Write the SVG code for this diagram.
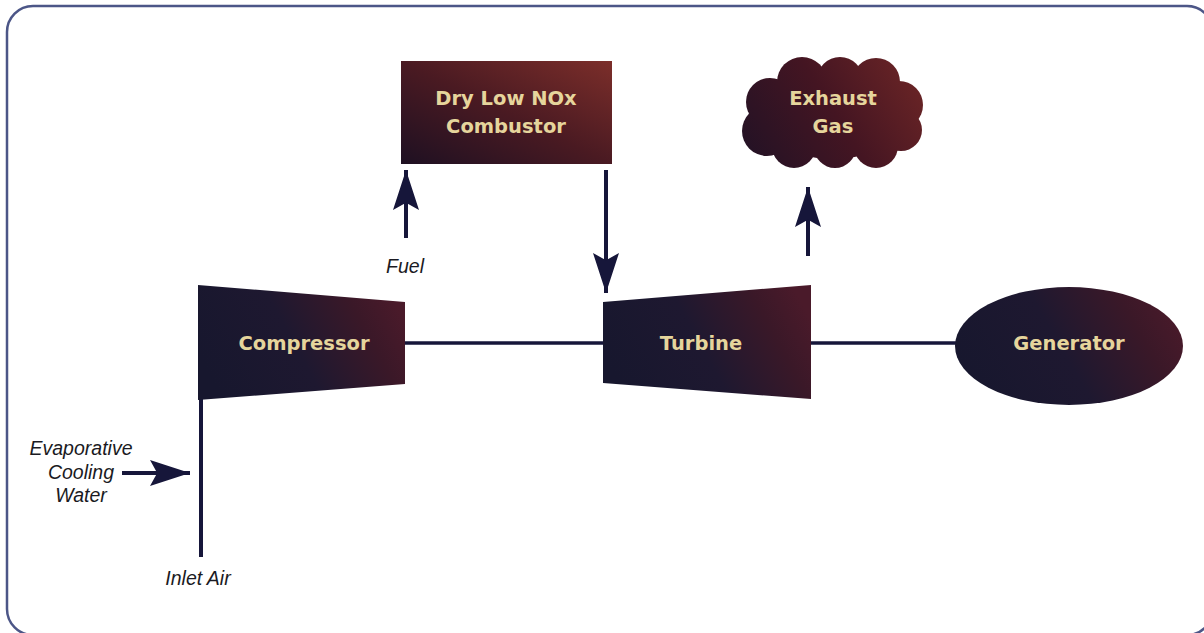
<svg xmlns="http://www.w3.org/2000/svg" width="1204" height="633" viewBox="0 0 1204 633">
<defs>
<linearGradient id="gComb" x1="0" y1="1" x2="1" y2="0">
<stop offset="0" stop-color="#1e1022"/>
<stop offset="0.5" stop-color="#4a1a22"/>
<stop offset="1" stop-color="#7c2e2a"/>
</linearGradient>
<linearGradient id="gCloud" gradientUnits="userSpaceOnUse" x1="750" y1="165" x2="920" y2="60">
<stop offset="0" stop-color="#231225"/>
<stop offset="0.5" stop-color="#441522"/>
<stop offset="1" stop-color="#6e2626"/>
</linearGradient>
<linearGradient id="gMach" x1="0" y1="0.6" x2="1" y2="0.3">
<stop offset="0" stop-color="#17172e"/>
<stop offset="0.45" stop-color="#1e1830"/>
<stop offset="0.8" stop-color="#3a1828"/>
<stop offset="1" stop-color="#4a1a2a"/>
</linearGradient>
<marker id="ah" viewBox="0 0 10 6.5" refX="10" refY="3.25" markerWidth="10" markerHeight="6.5" markerUnits="strokeWidth" orient="auto">
<path d="M0,0 L10,3.25 L0,6.5 L1.8,3.25 Z" fill="#16163a"/>
</marker>
<style>
.lbl{font-family:"DejaVu Sans","Liberation Sans",sans-serif;font-weight:bold;font-size:19.5px;fill:#e6d59c;text-anchor:middle}
.it{font-family:"Liberation Sans",Arial,sans-serif;font-style:italic;font-size:19.5px;fill:#1a1a22;text-anchor:middle}
.conn{stroke:#16163a;stroke-width:4;fill:none}
.shaft{stroke:#16163a;stroke-width:3.5;fill:none}
</style>
</defs>
<rect x="7" y="6" width="1206" height="629" rx="26" fill="#ffffff" stroke="#4c5687" stroke-width="2.5"/>

<g id="connectors">
<line class="shaft" x1="405" y1="343" x2="603" y2="343"/>
<line class="shaft" x1="811" y1="343" x2="956" y2="343"/>
<line class="conn" x1="201" y1="396" x2="201" y2="557"/>
<line class="conn" x1="406" y1="238" x2="406" y2="170" marker-end="url(#ah)"/>
<line class="conn" x1="606" y1="170" x2="606" y2="293" marker-end="url(#ah)"/>
<line class="conn" x1="808" y1="256" x2="808" y2="187" marker-end="url(#ah)"/>
<line class="conn" x1="122" y1="473" x2="190" y2="473" marker-end="url(#ah)"/>
</g>

<g id="combustor">
<rect x="401" y="61" width="211" height="103" fill="url(#gComb)"/>
<text class="lbl" x="506" y="105">Dry Low NOx<tspan x="506" y="133">Combustor</tspan></text>
</g>

<g id="exhaust">
<g fill="url(#gCloud)">
<ellipse cx="833" cy="113" rx="74" ry="46"/>
<circle cx="770" cy="102" r="24"/>
<circle cx="802" cy="82" r="25"/>
<circle cx="840" cy="80" r="23"/>
<circle cx="876" cy="82" r="24"/>
<circle cx="899" cy="105" r="24"/>
<circle cx="767" cy="131" r="25"/>
<circle cx="794" cy="146" r="22"/>
<circle cx="835" cy="147" r="21"/>
<circle cx="876" cy="146" r="22"/>
<circle cx="901" cy="130" r="21"/>
</g>
<text class="lbl" x="833" y="105">Exhaust<tspan x="833" y="133">Gas</tspan></text>
</g>

<g id="compressor">
<polygon points="198,285 405,302 405,384 198,400" fill="url(#gMach)"/>
<text class="lbl" x="304" y="350">Compressor</text>
</g>

<g id="turbine">
<polygon points="603,302 811,285 811,399 603,383" fill="url(#gMach)"/>
<text class="lbl" x="701" y="350">Turbine</text>
</g>

<g id="generator">
<ellipse cx="1069" cy="346" rx="114" ry="59" fill="url(#gMach)"/>
<text class="lbl" x="1069" y="350">Generator</text>
</g>

<g id="labels">
<text class="it" x="405" y="273">Fuel</text>
<text class="it" x="81" y="455">Evaporative<tspan x="81" y="478.5">Cooling</tspan><tspan x="81" y="502">Water</tspan></text>
<text class="it" x="198" y="585">Inlet Air</text>
</g>
</svg>
